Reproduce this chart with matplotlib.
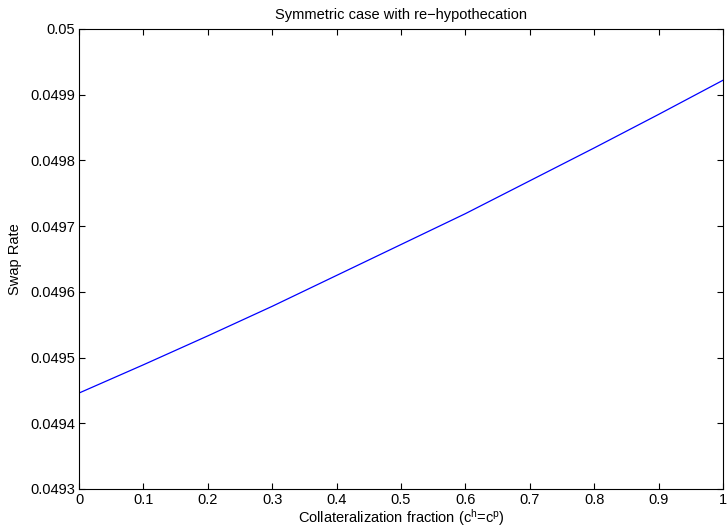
import matplotlib
matplotlib.use("Agg")
import matplotlib.pyplot as plt

plt.rcParams['font.family'] = ['Liberation Sans', 'DejaVu Sans']
plt.rcParams['mathtext.fontset'] = 'custom'
plt.rcParams['mathtext.rm'] = 'Liberation Sans'
plt.rcParams['mathtext.it'] = 'Liberation Sans'
plt.rcParams['mathtext.bf'] = 'Liberation Sans:bold'

# collateralization fraction vs swap rate
frac = [0.0, 0.1, 0.2, 0.3, 0.4, 0.5, 0.6, 0.7, 0.8, 0.9, 1.0]
swap_rate = [0.049446, 0.049489, 0.049533, 0.049578, 0.049625, 0.049672,
             0.049719, 0.049769, 0.049819, 0.049870, 0.049922]

x_ticks = [0, 0.1, 0.2, 0.3, 0.4, 0.5, 0.6, 0.7, 0.8, 0.9, 1]
x_tick_labels = ['0', '0.1', '0.2', '0.3', '0.4', '0.5', '0.6', '0.7', '0.8', '0.9', '1']
y_ticks = [0.0493, 0.0494, 0.0495, 0.0496, 0.0497, 0.0498, 0.0499, 0.05]
y_tick_labels = ['0.0493', '0.0494', '0.0495', '0.0496', '0.0497', '0.0498', '0.0499', '0.05']

fig = plt.figure(figsize=(7.27, 5.30), dpi=100)
ax = fig.add_axes([0.1087, 0.0774, 0.8858, 0.8679])

ax.plot(frac, swap_rate, color='#0000ff', lw=0.9)

ax.set_xlim(0, 1)
ax.set_ylim(0.0493, 0.05)
ax.set_xticks(x_ticks)
ax.set_xticklabels(x_tick_labels)
ax.set_yticks(y_ticks)
ax.set_yticklabels(y_tick_labels)

# matlab style box with inward ticks on all sides
ax.tick_params(direction='in', length=4.5, width=0.8, labelsize=10.5,
               top=True, right=True, pad=3)
for s in ax.spines.values():
    s.set_linewidth(0.8)

ax.set_title('Symmetric case with re\u2212hypothecation', fontsize=10.5, pad=7)
ax.set_xlabel(r'Collateralization fraction (c$^{h}$=c$^{p}$)', fontsize=10.5, labelpad=0)
ax.set_ylabel('Swap Rate', fontsize=10.5, labelpad=6)

fig.savefig('out.png', dpi=100)
